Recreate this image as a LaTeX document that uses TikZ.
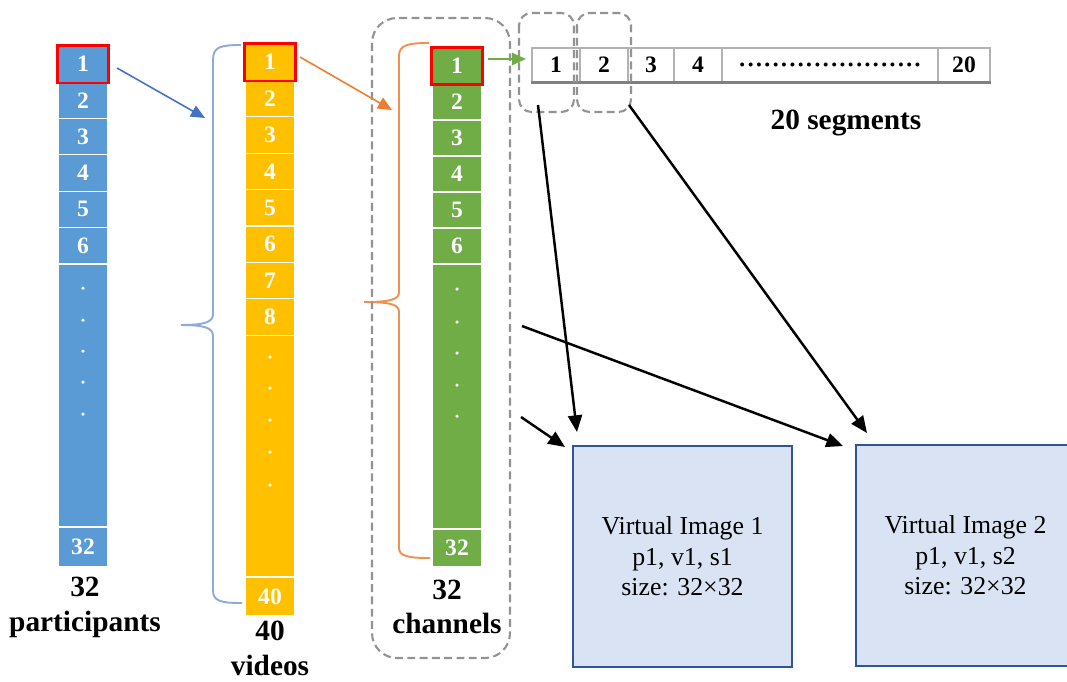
\documentclass[tikz,border=0pt]{standalone}
\usepackage{fontspec}
\setmainfont{Liberation Serif}
\usetikzlibrary{arrows.meta}
\definecolor{cblue}{HTML}{5B9BD5}
\definecolor{cyellow}{HTML}{FFC000}
\definecolor{cgreen}{HTML}{70AD47}
\definecolor{ablue}{HTML}{4472C4}
\definecolor{aorange}{HTML}{ED7D31}
\definecolor{bblue}{HTML}{8FAADC}
\definecolor{imgfill}{HTML}{DAE3F3}
\definecolor{imgline}{HTML}{2F5597}
\begin{document}
\begin{tikzpicture}[x=0.02cm,y=-0.02cm,
  cell/.style={rectangle,draw=white,line width=0.6pt,minimum width=1cm,inner sep=0pt,text=white,font=\fontsize{13.4}{16}\selectfont\bfseries},
  pcell/.style={cell,fill=cblue,minimum height=0.726cm},
  vcell/.style={cell,fill=cyellow,minimum height=0.728cm},
  ccell/.style={cell,fill=cgreen,minimum height=0.72cm},
  hilite/.style={draw=red,line width=1.4pt},
  seg/.style={rectangle,draw=gray!60,line width=0.6pt,minimum height=0.68cm,inner sep=0pt,font=\fontsize{13.4}{16}\selectfont\bfseries},
  lbl/.style={align=center,font=\fontsize{16.7}{19.8}\selectfont\bfseries},
  vimg/.style={rectangle,draw=imgline,line width=1.2pt,fill=imgfill,minimum width=4.38cm,minimum height=4.42cm,align=center,font=\fontsize{14.7}{17.3}\selectfont},
  dbox/.style={draw=gray!85,line width=1.2pt,dash pattern=on 4.5pt off 2.5pt},
  brc/.style={line width=1.1pt},
  karrow/.style={-{Triangle[length=9.5pt,width=8pt]},line width=1.4pt},
  carrow/.style={-{Triangle[length=8pt,width=7pt]},line width=0.9pt}]

  \useasboundingbox (0,0) rectangle (1067,681);

  % participants
  \foreach \i in {1,...,6}
    \node[pcell] (p\i) at (83,{46+36.3*\i-18.15}) {\i};
  \node[pcell,minimum height=5.26cm] (pdots) at (83,395.5) {};
  \node[pcell,minimum height=0.8cm] (p32) at (83,547) {32};
  \foreach \y in {288,320,351,382,414}
    \fill[white] (83,\y) circle (1pt);
  \draw[hilite] (p1.north west) rectangle (p1.south east);

  % videos
  \foreach \i in {1,...,8}
    \node[vcell] (v\i) at (270,{44+36.4*\i-18.2}) {\i};
  \node[vcell,minimum height=4.84cm] (vdots) at (270,456) {};
  \node[vcell,minimum height=0.78cm] (v40) at (270,596.5) {40};
  \foreach \y in {357,388,420,452,485}
    \fill[white] (270,\y) circle (1pt);
  \draw[hilite] (v1.north west) rectangle (v1.south east);

  % channels
  \foreach \i in {1,...,6}
    \node[ccell] (c\i) at (457,{48+36*\i-18}) {\i};
  \node[ccell,minimum height=5.3cm] (cdots) at (457,396.5) {};
  \node[ccell,minimum height=0.76cm] (c32) at (457,548) {32};
  \foreach \y in {289,322,353,385,416}
    \fill[white] (457,\y) circle (1pt);
  \draw[hilite] (c1.north west) rectangle (c1.south east);

  % braces
  \draw[brc,bblue] (241,45) .. controls (220,45) and (213,47) .. (213,60) -- (213,314)
    .. controls (213,322) and (205,325) .. (181,325) .. controls (205,325) and (213,328) .. (213,336)
    -- (213,590) .. controls (213,601) and (220,603) .. (242,603);
  \draw[brc,aorange!85] (429,43) .. controls (408,43) and (399,45) .. (399,56) -- (399,292)
    .. controls (399,299) and (392,302) .. (364,302) .. controls (392,302) and (399,305) .. (399,312)
    -- (399,548) .. controls (399,556) and (408,558) .. (430,558);

  % segments
  \node[seg,minimum width=0.96cm] (s1) at (556,65) {1};
  \node[seg,minimum width=0.96cm] (s2) at (604,65) {2};
  \node[seg,minimum width=0.92cm] (s3) at (651,65) {3};
  \node[seg,minimum width=0.96cm] (s4) at (698,65) {4};
  \node[seg,minimum width=4.32cm,font=\fontsize{19}{20}\selectfont] (sdots) at (830,65) {......................};
  \node[seg,minimum width=1.04cm] (s20) at (964,65) {20};
  \draw[gray,line width=1.2pt] (s1.south west) -- (s20.south east);

  \draw[dbox,rounded corners=0.5cm] (372,18) rectangle (510,658);
  \draw[dbox,rounded corners=0.25cm] (519,13) rectangle (574,112);
  \draw[dbox,rounded corners=0.25cm] (577,13) rectangle (631,112);

  \node[lbl] (plbl) at (85,607) {32\\participants};
  \node[lbl] (vlbl) at (270,648) {40\\videos};
  \node[lbl] (clbl) at (447,607) {32\\channels};
  \node[lbl] (slbl) at (846,123) {20 segments};

  \node[vimg] (img1) at (682.5,556.5) {Virtual Image 1\\p1, v1, s1\\size: 32×32};
  \node[vimg] (img2) at (965.5,555.5) {Virtual Image 2\\p1, v1, s2\\size: 32×32};

  % connectors
  \coordinate (pa) at (117,68);  \coordinate (pb) at (205,118);
  \coordinate (va) at (300,57);  \coordinate (vb) at (392,110);
  \coordinate (ca) at (488,59);  \coordinate (cb) at (526,59);
  \coordinate (k1) at (538,105); \coordinate (k1b) at (577,432);
  \coordinate (k2) at (629,105); \coordinate (k2b) at (867,433);
  \coordinate (k3) at (522,326); \coordinate (k3b) at (843,446);
  \coordinate (k4) at (521,417); \coordinate (k4b) at (565,447);

  \draw[carrow,ablue] (pa) -- (pb);
  \draw[carrow,aorange] (va) -- (vb);
  \draw[carrow,cgreen,line width=1.2pt] (ca) -- (cb);
  \draw[karrow] (k1) -- (k1b);
  \draw[karrow] (k2) -- (k2b);
  \draw[karrow] (k3) -- (k3b);
  \draw[karrow] (k4) -- (k4b);
\end{tikzpicture}
\end{document}
